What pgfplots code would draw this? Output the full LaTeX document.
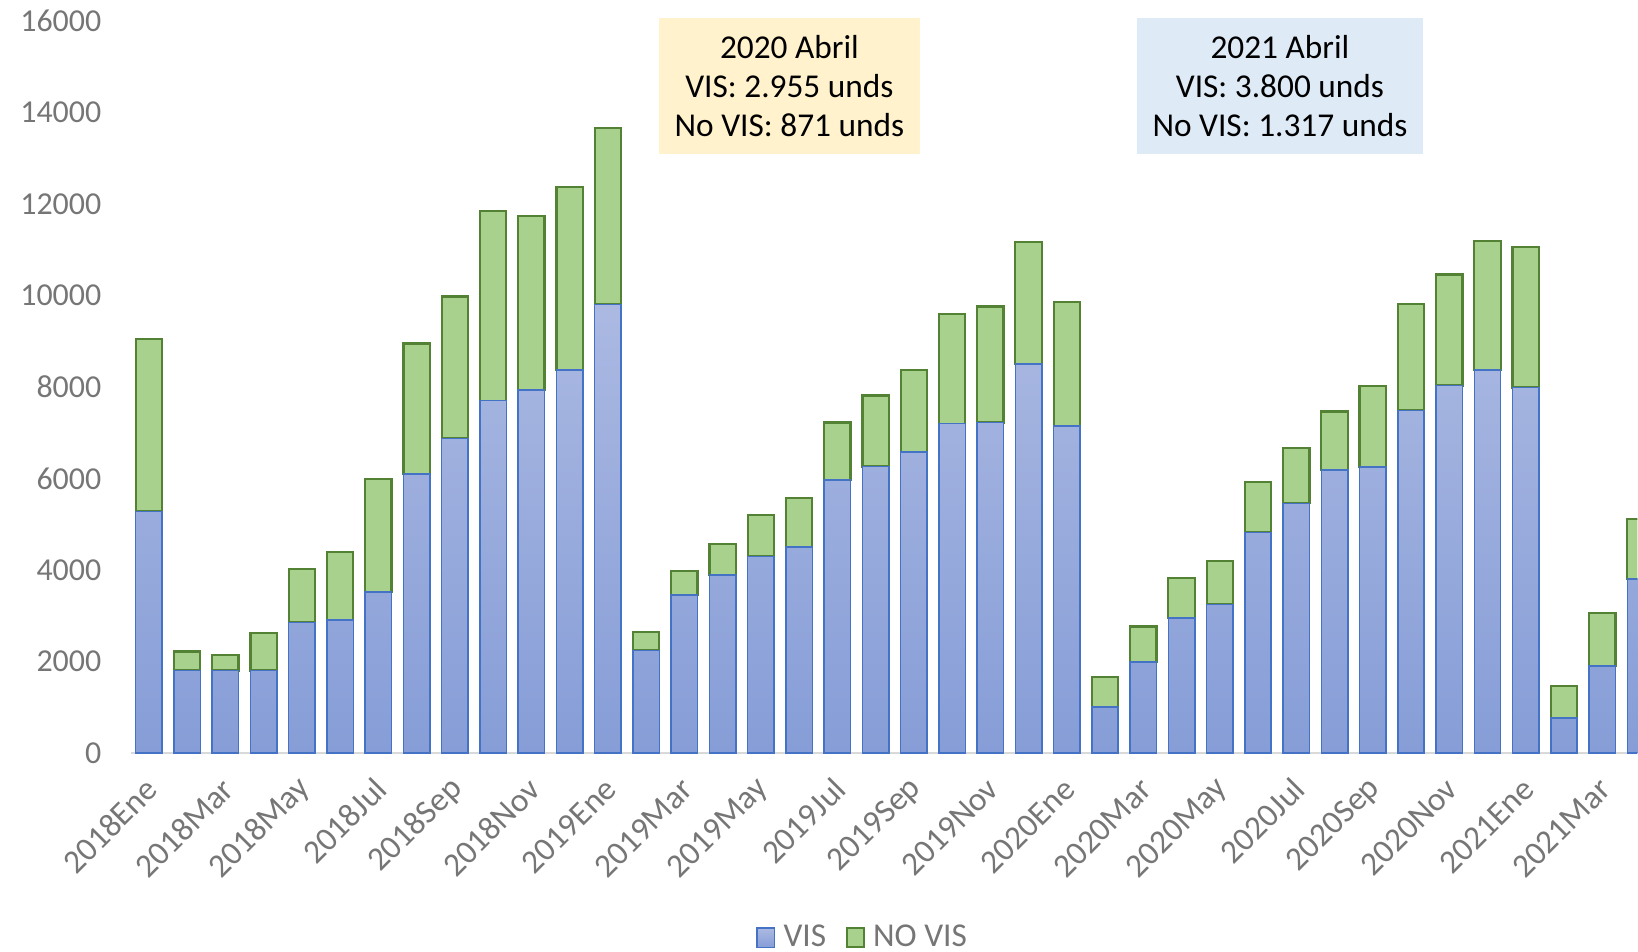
\documentclass[border=0pt]{standalone}
\usepackage{fontspec}
\setmainfont{Carlito}
\usepackage{pgfplots}
\usepackage{pgfplotstable}
\pgfplotsset{compat=1.18}

\definecolor{visline}{HTML}{4472C4}
\definecolor{vistop}{HTML}{ABB9E2}
\definecolor{visbot}{HTML}{869DD7}
\definecolor{novisfill}{HTML}{A9D18E}
\definecolor{novisline}{HTML}{548235}
\definecolor{ticktext}{HTML}{767676}
\definecolor{axisline}{HTML}{D9D9D9}
\definecolor{boxyellow}{HTML}{FFF2CC}
\definecolor{boxblue}{HTML}{DEEBF7}

% unidades vendidas por mes (VIS / NO VIS), 2018Ene ... 2021Abr
\pgfplotstableread{
x  vis   novis
0  5280  3775
1  1806  411
2  1806  343
3  1806  823
4  2857  1166
5  2903  1486
6  3520  2469
7  6103  2847
8  6880  3100
9  7703  4147
10 7935  3812
11 8375  4000
12 9805  3855
13 2240  411
14 3451  526
15 3886  685
16 4297  914
17 4503  1074
18 5966  1257
19 6263  1554
20 6583  1783
21 7200  2400
22 7223  2537
23 8503  2674
24 7154  2697
25 1006  663
26 1989  777
27 2955  871
28 3246  960
29 4823  1097
30 5459  1217
31 6190  1275
32 6256  1764
33 7488  2329
34 8035  2425
35 8378  2810
36 7992  3065
37 770   693
38 1905  1155
39 3800  1317
}\datos

\begin{document}
\begin{tikzpicture}
\useasboundingbox (0,0) rectangle (589.7pt,342.4pt);
\begin{axis}[
    at={(47pt,71.3pt)}, anchor=south west,
    scale only axis,
    width=542.5pt, height=263.5pt,
    ybar stacked,
    bar width=0.69,
    xmin=-0.48, xmax=38.92,
    ymin=0, ymax=16000,
    axis x line*=bottom,
    axis y line*=left,
    x axis line style={-, draw=axisline, line width=0.8pt},
    y axis line style={draw=none},
    major tick length=0pt,
    ytick={0,2000,...,16000},
    scaled y ticks=false,
    /pgf/number format/1000 sep={},
    /pgf/number format/assume math mode=true,
    xtick={0,2,...,38},
    xticklabels={2018Ene,2018Mar,2018May,2018Jul,2018Sep,2018Nov,
                 2019Ene,2019Mar,2019May,2019Jul,2019Sep,2019Nov,
                 2020Ene,2020Mar,2020May,2020Jul,2020Sep,2020Nov,
                 2021Ene,2021Mar},
    yticklabel style={font=\fontsize{11.5}{13}\selectfont, text=ticktext, xshift=-7pt},
    xticklabel style={font=\fontsize{12}{13}\selectfont, text=ticktext, rotate=45, anchor=east, xshift=-3.7pt, yshift=-8.6pt},
    legend style={at={(0.487,-0.253)}, anchor=center, draw=none,
        legend columns=2, font=\fontsize{12}{13}\selectfont, text=ticktext,
        /tikz/every even column/.append style={column sep=5pt}},
    legend image code/.code={\draw[#1] (0pt,-3.3pt) rectangle (6.3pt,3.6pt);
                             \path[draw=none, fill=none, shade=false] (6.3pt,0pt) -- (7.5pt,0pt);},
]
\addplot[top color=vistop, bottom color=visbot, draw=visline, line width=0.55pt]
    table[x=x, y=vis] {\datos};
\addlegendentry{VIS}
\addplot[fill=novisfill, draw=novisline, line width=0.8pt]
    table[x=x, y=novis] {\datos};
\addlegendentry{NO VIS}
\end{axis}

% recuadros de anotacion
\node[fill=boxyellow, minimum width=94pt, minimum height=49pt, inner sep=0pt,
      align=center, font=\fontsize{12}{13.9}\selectfont]
    at (284.2pt,311.4pt) {2020 Abril\\VIS: 2.955 unds\\No VIS: 871 unds};
\node[fill=boxblue, minimum width=103pt, minimum height=49pt, inner sep=0pt,
      align=center, font=\fontsize{12}{13.9}\selectfont]
    at (460.8pt,311.4pt) {2021 Abril\\VIS: 3.800 unds\\No VIS: 1.317 unds};
\end{tikzpicture}
\end{document}
